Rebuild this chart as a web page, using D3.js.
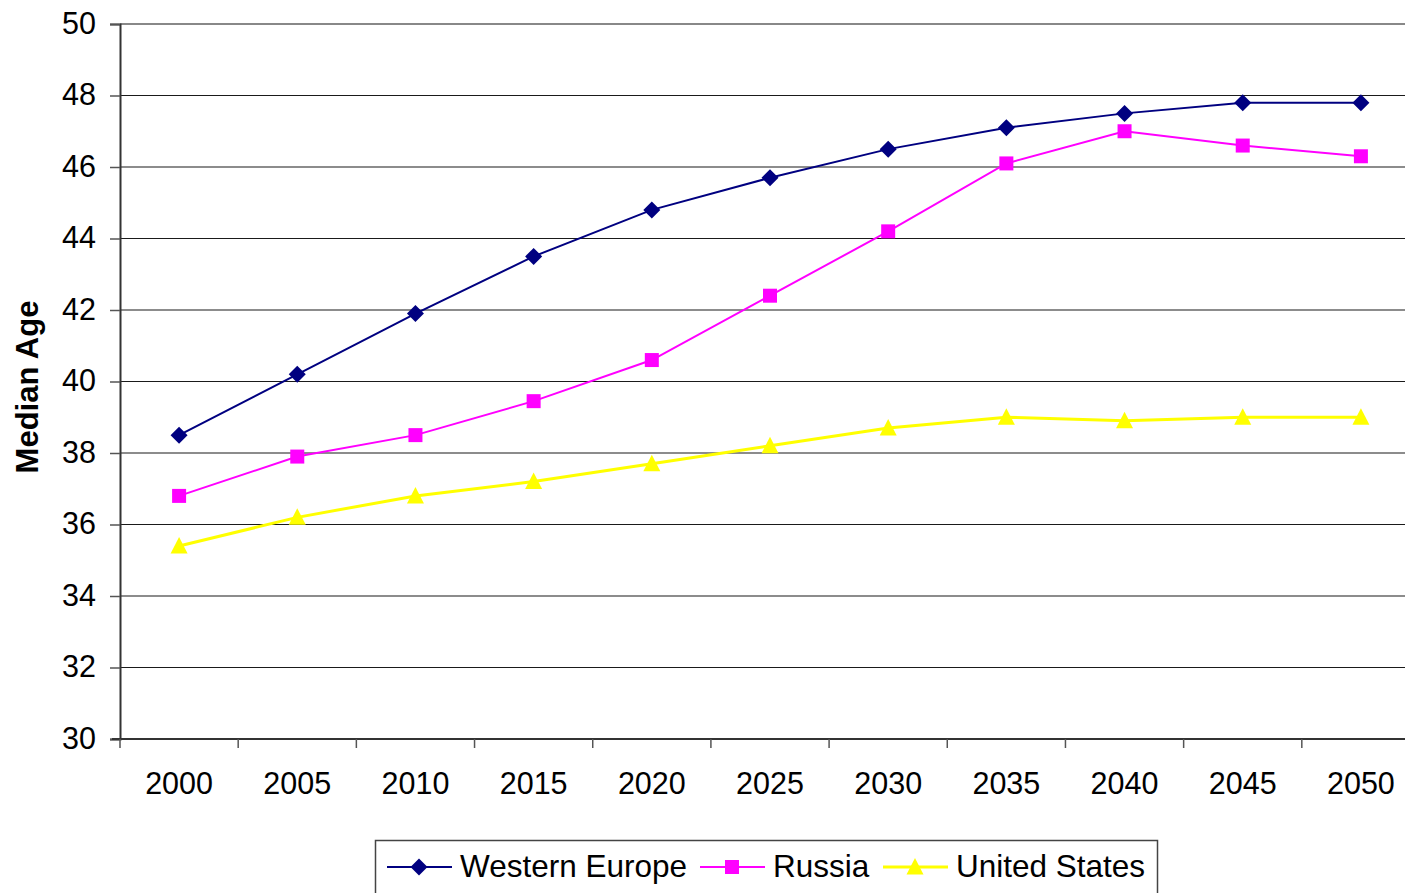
<!DOCTYPE html>
<html><head><meta charset="utf-8">
<script src="https://cdn.jsdelivr.net/npm/d3@7"></script>
<style>
html,body{margin:0;padding:0;background:#fff;overflow:hidden}
svg{display:block;font-family:"Liberation Sans",Arial,sans-serif}
</style></head>
<body>
<svg id="chart" width="1405" height="893"></svg>
<script>
const years = ["2000","2005","2010","2015","2020","2025","2030","2035","2040","2045","2050"];
const westernEurope = [38.5,40.2,41.9,43.5,44.8,45.7,46.5,47.1,47.5,47.8,47.8];
const russia = [36.8,37.9,38.5,39.45,40.6,42.4,44.2,46.1,47.0,46.6,46.3];
const unitedStates = [35.4,36.2,36.8,37.2,37.7,38.2,38.7,39.0,38.9,39.0,39.0];
const yTicks = [30,32,34,36,38,40,42,44,46,48,50];
const seriesNames = ["Western Europe","Russia","United States"];

const series = [
  {name: seriesNames[0], values: westernEurope, color: "#000080", marker: "diamond", width: 2},
  {name: seriesNames[1], values: russia, color: "#FF00FF", marker: "square", width: 2},
  {name: seriesNames[2], values: unitedStates, color: "#FFFF00", marker: "triangle", width: 3}
];

const svg = d3.select("#chart");
const pLeft = 120, pRight = 1420, pTop = 24, pBottom = 739;

const x = d3.scaleBand().domain(years).range([pLeft, pRight]).padding(0);
const y = d3.scaleLinear().domain([30, 50]).range([pBottom, pTop]);

// gridlines
svg.append("g").selectAll("line").data(yTicks.filter(d => d > 30)).join("line")
  .attr("x1", pLeft).attr("x2", pRight)
  .attr("y1", d => y(d)).attr("y2", d => y(d))
  .attr("stroke", d => d === 50 ? "#888" : "#1a1a1a")
  .attr("stroke-width", d => d === 50 ? 2 : 1.2);

// y axis
const yAxis = svg.append("g").attr("transform", `translate(${pLeft},0)`)
  .call(d3.axisLeft(y).tickValues(yTicks).tickSize(10).tickPadding(14).tickFormat(d3.format("d")));
yAxis.select(".domain").attr("stroke", "#333").attr("stroke-width", 2);
yAxis.selectAll(".tick line").attr("stroke", "#555").attr("stroke-width", 1.5);
yAxis.selectAll(".tick text").attr("font-size", 30.5).attr("fill", "#000")
  .attr("font-family", "Liberation Sans, Arial, sans-serif").attr("dy", "0.3em");

// x axis
const xAxis = svg.append("g").attr("transform", `translate(0,${pBottom})`);
xAxis.append("line").attr("x1", pLeft - 8).attr("x2", pRight).attr("y1", 0).attr("y2", 0)
  .attr("stroke", "#333").attr("stroke-width", 2);
const bounds = years.map(d => x(d)).concat([pRight]);
xAxis.selectAll("line.tk").data(bounds).join("line").attr("class", "tk")
  .attr("x1", d => d).attr("x2", d => d).attr("y1", 0).attr("y2", 9)
  .attr("stroke", "#555").attr("stroke-width", 1.5);
xAxis.selectAll("text").data(years).join("text")
  .attr("x", d => x(d) + x.bandwidth() / 2).attr("y", 55)
  .attr("text-anchor", "middle").attr("font-size", 30.5).attr("fill", "#000").text(d => d);

// y title
svg.append("text").attr("transform", "translate(38,387) rotate(-90)")
  .attr("text-anchor", "middle").attr("font-size", 31).attr("font-weight", "bold")
  .text("Median Age");

function markerPath(type) {
  if (type === "diamond") return "M0,-8.5L8.5,0L0,8.5L-8.5,0Z";
  if (type === "square") return "M-7,-7H7V7H-7Z";
  return "M0,-9L8.5,7.5H-8.5Z";
}

const cx = d => x(d) + x.bandwidth() / 2;
const line = d3.line().x((d, i) => cx(years[i])).y(d => y(d));

series.forEach(s => {
  svg.append("path").datum(s.values).attr("d", line)
    .attr("fill", "none").attr("stroke", s.color).attr("stroke-width", s.width);
  svg.append("g").selectAll("path").data(s.values).join("path")
    .attr("transform", (d, i) => `translate(${cx(years[i])},${y(d)})`)
    .attr("d", markerPath(s.marker)).attr("fill", s.color);
});

// legend
const lg = svg.append("g");
lg.append("rect").attr("x", 375.5).attr("y", 840.5).attr("width", 782).attr("height", 70)
  .attr("fill", "#fff").attr("stroke", "#444").attr("stroke-width", 1.5);
const legendItems = [
  {x0: 387, textX: 460},
  {x0: 700, textX: 773},
  {x0: 883, textX: 956}
];
series.forEach((s, i) => {
  const it = legendItems[i];
  lg.append("line").attr("x1", it.x0).attr("x2", it.x0 + 65).attr("y1", 867).attr("y2", 867)
    .attr("stroke", s.color).attr("stroke-width", s.width);
  lg.append("path").attr("transform", `translate(${it.x0 + 32},867)`)
    .attr("d", markerPath(s.marker)).attr("fill", s.color);
  lg.append("text").attr("x", it.textX).attr("y", 877).attr("font-size", 31.5).text(s.name);
});
</script>
</body></html>
